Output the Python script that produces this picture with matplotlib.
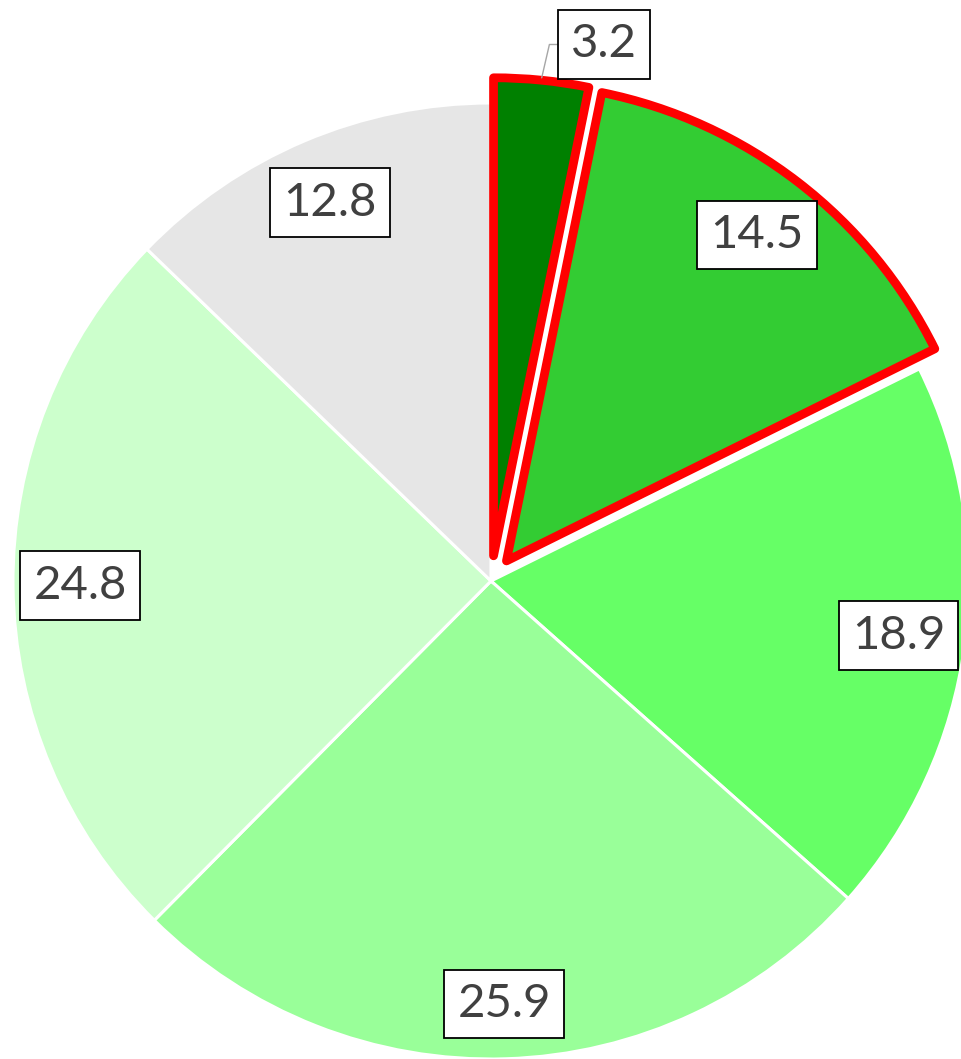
import numpy as np
import matplotlib
matplotlib.use('Agg')
import matplotlib.pyplot as plt

# 데이터
values = [3.2, 14.5, 18.9, 25.9, 24.8, 12.8]
labels = ['3.2', '14.5', '18.9', '25.9', '24.8', '12.8']
colors = ['#008000', '#33CC33', '#66FF66', '#99FF99', '#CCFFCC', '#E6E6E6']
highlight = [True, True, False, False, False, False]

plt.rcParams['font.family'] = ['Lato', 'DejaVu Sans']

fig = plt.figure(figsize=(9.62, 10.59), dpi=100)
ax = fig.add_axes([0, 0, 1, 1])

R = 478.0  # 반지름 (픽셀)
cx, cy = 491.0, 581.0
ax.axis('off')

explode = [0.053 if h else 0 for h in highlight]
wedges, _ = ax.pie(values, colors=colors, startangle=90, counterclock=False,
                   explode=explode, radius=1.0, center=(0, 0),
                   wedgeprops=dict(edgecolor='white', linewidth=2.2))
ax.set_xlim(-cx / R, (962 - cx) / R)
ax.set_ylim(-(1059 - cy) / R, cy / R)
ax.set_aspect('auto')

for w, h in zip(wedges, highlight):
    if h:
        w.set_edgecolor('#FF0000')
        w.set_linewidth(6.3)
        w.set_joinstyle('round')
        w.set_zorder(3)

box = dict(boxstyle='square,pad=0.28', facecolor='white', edgecolor='black', linewidth=1.3)

for i, (w, lab) in enumerate(zip(wedges, labels)):
    ang = np.deg2rad((w.theta1 + w.theta2) / 2)
    x0, y0 = w.center
    if i == 0:
        xy = (x0 + 1.005 * np.cos(ang), y0 + 1.005 * np.sin(ang))
        ax.annotate(lab, xy=xy, xytext=(45, 24), textcoords='offset points',
                    ha='center', va='center', fontsize=34, color='#404040',
                    bbox=box, zorder=5,
                    arrowprops=dict(arrowstyle='-', color='#A6A6A6', lw=1,
                                    shrinkA=0, shrinkB=0,
                                    connectionstyle='angle,angleA=0,angleB=77,rad=0'))
    else:
        r = 0.885 if i == 3 else 0.86
        ax.text(x0 + r * np.cos(ang), y0 + r * np.sin(ang), lab,
                ha='center', va='center', fontsize=34, color='#404040',
                bbox=box, zorder=5)

fig.savefig('out.png', dpi=100)
